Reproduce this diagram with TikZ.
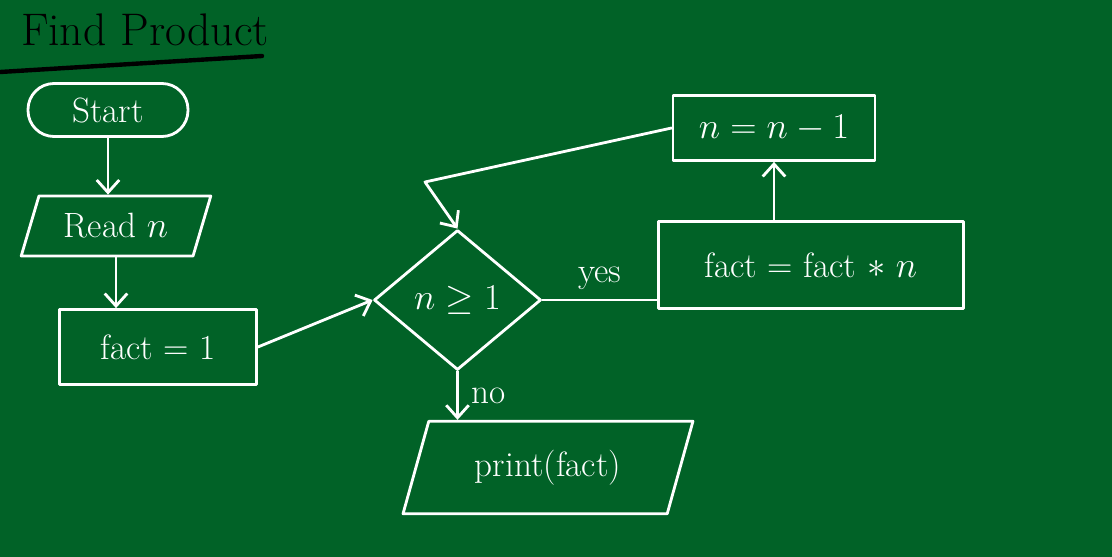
\documentclass[tikz,border=0pt]{standalone}
\usepackage{amsmath,amssymb}
\usepackage{xcolor}
\usepackage{tikz}
\usetikzlibrary{arrows.meta,positioning,calc,shapes.geometric}
\definecolor{boardgreen}{RGB}{1,98,39}
\definecolor{chalk}{RGB}{255,255,255}

\begin{document}
\begin{tikzpicture}[x=1cm,y=1cm,
  font=\fontsize{20}{24}\selectfont,
  chalkline/.style={draw=chalk,line width=1.6pt,line join=round,line cap=round},
  terminal/.style={chalkline,rounded corners=5.2mm,minimum width=3.2cm,minimum height=1.06cm,text=chalk},
  io/.style={chalkline,trapezium,trapezium left angle=70,trapezium right angle=110,trapezium stretches=true,text=chalk},
  process/.style={chalkline,rectangle,text=chalk},
  decision/.style={chalkline,diamond,inner sep=0pt,minimum width=3.34cm,minimum height=2.8cm,text=chalk},
  branchtext/.style={text=chalk},
  flow/.style={chalkline,-{Straight Barb[length=2.5mm,width=4.5mm]}}]

\fill[boardgreen] (0,0) rectangle (22.24,-11.14);
\path[use as bounding box] (0,0) rectangle (22.24,-11.14);
\node[font=\fontsize{26}{30}\selectfont,text=black] (title) at (2.9,-0.6) {Find Product};
\draw[black,line width=2.5pt,line cap=round] (0,-1.44)--(5.24,-1.12);

\node[terminal] (start) at (2.16,-2.2) {Start};
\node[io,minimum width=3.8cm,minimum height=1.2cm] (read) at (2.32,-4.52) {Read $n$};
\node[process,minimum width=3.94cm,minimum height=1.5cm] (init) at (3.16,-6.94) {fact = 1};
\node[decision] (test) at (9.15,-6.0) {$n \geq 1$};
\node[process,minimum width=6.1cm,minimum height=1.75cm] (mult) at (16.22,-5.3) {fact = fact $*$ $n$};
\node[process,minimum width=4.04cm,minimum height=1.3cm] (dec) at (15.48,-2.56) {$n = n-1$};
\node[io,minimum width=5.8cm,minimum height=1.85cm] (out) at (10.96,-9.35) {print(fact)};
\coordinate (loop) at (8.5,-3.64);

\draw[flow] (start.south)--(start.south |- read.north);
\draw[flow] (read.south)--(read.south |- init.north);
\draw[flow] (init.east)--(test.west);
\draw[chalkline] (test.east)--(mult.west |- test.east)
  node[branchtext,midway,above=2pt] {yes};
\draw[flow] (dec.south |- mult.north)--(dec.south);
\draw[flow] (dec.west)--(loop)--(test.north);
\draw[flow] (test.south)--(test.south |- out.north)
  node[branchtext,midway,right=4pt] {no};

\end{tikzpicture}
\end{document}
